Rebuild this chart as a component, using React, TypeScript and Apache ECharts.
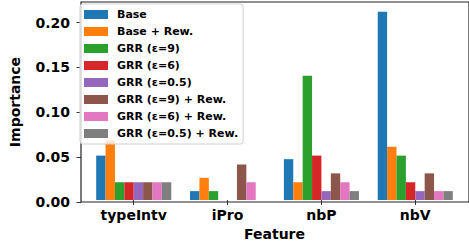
import React, { useEffect, useRef } from "react";
import * as echarts from "echarts";

const categories = ["typeIntv", "iPro", "nbP", "nbV"];
const seriesNames = [
  "Base",
  "Base + Rew.",
  "GRR (ε=9)",
  "GRR (ε=6)",
  "GRR (ε=0.5)",
  "GRR (ε=9) + Rew.",
  "GRR (ε=6) + Rew.",
  "GRR (ε=0.5) + Rew.",
];
const base = [0.05, 0.01, 0.046, 0.212];
const baseRew = [0.067, 0.025, 0.02, 0.06];
const grr9 = [0.02, 0.01, 0.14, 0.05];
const grr6 = [0.02, 0.0, 0.05, 0.02];
const grr05 = [0.02, 0.0, 0.01, 0.01];
const grr9Rew = [0.02, 0.04, 0.03, 0.03];
const grr6Rew = [0.02, 0.02, 0.02, 0.01];
const grr05Rew = [0.02, 0.0, 0.01, 0.01];
const seriesValues = [base, baseRew, grr9, grr6, grr05, grr9Rew, grr6Rew, grr05Rew];
const colors = ["#1f77b4", "#ff7f0e", "#2ca02c", "#d62728", "#9467bd", "#8c564b", "#e377c2", "#7f7f7f"];
const yTicks = [0, 0.05, 0.1, 0.15, 0.2];

const FONT = "DejaVu Sans";

export default function App() {
  const ref = useRef<HTMLDivElement>(null);
  useEffect(() => {
    if (!ref.current) return;
    const chart = echarts.init(ref.current, null, { renderer: "svg" });
    const yMax = 0.223;
    chart.setOption({
      animation: false,
      color: colors,
      grid: [
        { left: 73, top: 2, width: 403, bottom: 44, show: true, borderColor: "#222", borderWidth: 1.2, backgroundColor: "transparent" },
        { left: 86.8, top: 2, width: 375.4, bottom: 44 },
      ],
      legend: {
        orient: "vertical",
        left: 80,
        top: 4,
        icon: "rect",
        itemWidth: 24,
        itemHeight: 9,
        itemGap: 4,
        padding: [4, 5, 4, 4],
        backgroundColor: "rgba(255,255,255,0.8)",
        borderColor: "#d0d0d0",
        borderWidth: 1,
        borderRadius: 3,
        textStyle: { fontFamily: FONT, fontWeight: "bold", fontSize: 11, lineHeight: 13, color: "#000", padding: [0, 0, 0, 4] },
        data: seriesNames,
      },
      xAxis: [
        { type: "value", gridIndex: 0, show: false, min: 0, max: 1 },
        {
          type: "category",
          gridIndex: 1,
          data: categories,
          axisLine: { show: false },
          axisTick: { show: true, alignWithLabel: true, length: 5, lineStyle: { color: "#333", width: 1 } },
          axisLabel: { fontFamily: FONT, fontWeight: "bold", fontSize: 14, color: "#000", margin: 8 },
          name: "Feature",
          nameLocation: "middle",
          nameGap: 27,
          nameTextStyle: { fontFamily: FONT, fontWeight: "bold", fontSize: 14, color: "#000" },
        },
      ],
      yAxis: [
        {
          type: "value",
          gridIndex: 0,
          min: 0,
          max: yMax,
          interval: 0.05,
          splitLine: { show: false },
          axisLine: { show: false },
          axisTick: { show: true, length: 4.5, lineStyle: { color: "#333", width: 1 } },
          axisLabel: {
            fontFamily: FONT,
            fontWeight: "bold",
            fontSize: 14,
            color: "#000",
            margin: 11,
            showMaxLabel: false,
            formatter: (v: number) => (yTicks.some((t) => Math.abs(t - v) < 1e-9) ? v.toFixed(2) : ""),
          },
          name: "Importance",
          nameLocation: "middle",
          nameGap: 59,
          nameTextStyle: { fontFamily: FONT, fontWeight: "bold", fontSize: 14, color: "#000" },
        },
        { type: "value", gridIndex: 1, min: 0, max: yMax, show: false },
      ],
      series: seriesNames.map((name, i) => ({
        name,
        type: "bar",
        xAxisIndex: 1,
        yAxisIndex: 1,
        data: seriesValues[i],
        barGap: "0%",
        barCategoryGap: "20%",
        itemStyle: { color: colors[i] },
      })),
    });
    return () => chart.dispose();
  }, []);
  return <div ref={ref} style={{ width: 469, height: 246, position: "absolute", left: 0, top: 0 }} />;
}
